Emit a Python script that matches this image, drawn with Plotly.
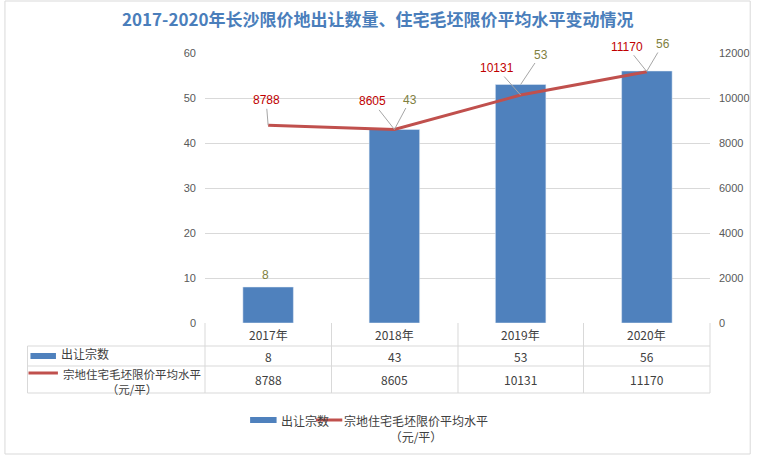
import plotly.graph_objects as go

years = ["2017年", "2018年", "2019年", "2020年"]
counts = [8, 43, 53, 56]
prices = [8788, 8605, 10131, 11170]
name_bar = "出让宗数"
name_line = "宗地住宅毛坯限价平均水平"
unit = "（元/平）"
title = "2017-2020年长沙限价地出让数量、住宅毛坯限价平均水平变动情况"

W, H = 762, 455
L, R, T, B = 205, 720, 53, 323
def px(x): return (x - L) / (R - L)
def py(y): return (B - y) / (B - T)

fig = go.Figure()
fig.add_bar(x=years, y=counts, marker_color="#4F81BD", width=0.4, showlegend=False)
fig.add_scatter(x=years, y=prices, yaxis="y2", mode="lines",
                line=dict(color="#C0504D", width=3), showlegend=False)

ann = []
font = dict(family="Noto Sans CJK SC", size=12, color="#404040")
font_s = dict(family="Noto Sans CJK SC", size=11.5, color="#404040")
red = dict(family="Liberation Sans", size=12, color="#C00000")
olive = dict(family="Liberation Sans", size=12, color="#7F7F3F")
line_off = [(-2, -25), (-22, -28), (-24, -27), (-20, -25)]
for i, (y, p) in enumerate(zip(years, prices)):
    dx, dy = line_off[i]
    ann.append(dict(x=y, y=p, yref="y2", text=str(p), font=red, showarrow=True,
                    arrowhead=0, arrowwidth=1, arrowcolor="#A6A6A6", ax=dx, ay=dy))
bar_off = [None, (16, -30), (20, -30), (16, -27)]
for i, (y, c) in enumerate(zip(years, counts)):
    if bar_off[i] is None:
        ann.append(dict(x=y, y=c, text=str(c), font=olive, showarrow=False, yshift=12, xshift=-3))
    else:
        dx, dy = bar_off[i]
        ann.append(dict(x=y, y=c, text=str(c), font=olive, showarrow=True,
                        arrowhead=0, arrowwidth=1, arrowcolor="#A6A6A6", ax=dx, ay=dy))

def pa(x, y, text, f=font, xanchor="center", xref="paper"):
    return dict(x=x, y=py(y), xref=xref, yref="paper", text=text, font=f, showarrow=False,
                xanchor=xanchor, yanchor="middle", align="center", borderpad=0)

for i, y in enumerate(years):
    ann.append(pa(y, 334, y, xref="x"))
    ann.append(pa(y, 356, str(counts[i]), xref="x"))
    ann.append(pa(y, 379, str(prices[i]), xref="x"))
ann.append(pa(px(57), 354, name_bar, xanchor="left"))
ann.append(pa(px(131), 381, name_line + "<br>" + unit, f=font_s))
ann.append(pa(px(281), 420, name_bar, xanchor="left"))
ann.append(pa(px(420), 428, name_line + "<br>" + unit))
ann.append(pa(px(381), 18, "<b>" + title + "</b>",
              f=dict(family="Noto Sans CJK SC", size=17, color="#4A7EBB")))

shapes = []
lc = "#D9D9D9"
for y in (346, 366, 393):
    shapes.append(dict(type="line", xref="paper", yref="paper", x0=px(24), x1=px(R), y0=py(y), y1=py(y),
                       line=dict(color=lc, width=1)))
for x in (L, 334, 463, 591, R):
    shapes.append(dict(type="line", xref="paper", yref="paper", x0=px(x), x1=px(x), y0=py(B), y1=py(393),
                       line=dict(color=lc, width=1)))
shapes.append(dict(type="line", xref="paper", yref="paper", x0=px(24), x1=px(24), y0=py(346), y1=py(393),
                   line=dict(color=lc, width=1)))
shapes.append(dict(type="rect", xref="paper", yref="paper", x0=px(27), x1=px(53), y0=py(359), y1=py(353),
                   fillcolor="#4F81BD", line_width=0))
shapes.append(dict(type="line", xref="paper", yref="paper", x0=px(25), x1=px(55), y0=py(373), y1=py(373),
                   line=dict(color="#C0504D", width=3)))
shapes.append(dict(type="rect", xref="paper", yref="paper", x0=px(251), x1=px(278), y0=py(423), y1=py(417),
                   fillcolor="#4F81BD", line_width=0))
shapes.append(dict(type="line", xref="paper", yref="paper", x0=px(318), x1=px(345), y0=py(420), y1=py(420),
                   line=dict(color="#C0504D", width=3)))
shapes.append(dict(type="rect", xref="paper", yref="paper", x0=px(1), x1=px(761), y0=py(1), y1=py(454),
                   line=dict(color="#D9D9D9", width=1)))

tf = dict(family="Liberation Sans", size=11, color="#595959")
fig.update_layout(
    width=W, height=H, margin=dict(l=L, r=W - R, t=T, b=H - B),
    plot_bgcolor="white", paper_bgcolor="white",
    xaxis=dict(showticklabels=False, showgrid=False, zeroline=False),
    yaxis=dict(range=[0, 60], dtick=10, gridcolor="#D9D9D9", zeroline=False, tickfont=tf,
               ticklabelstandoff=8),
    yaxis2=dict(range=[0, 12000], dtick=2000, tickformat="d", overlaying="y", side="right",
                showgrid=False, zeroline=False, tickfont=tf, ticklabelstandoff=8),
    annotations=ann, shapes=shapes, showlegend=False,
)
fig.write_html("out.html", config={"displayModeBar": False},
               post_script="document.body.style.margin='0px';")
